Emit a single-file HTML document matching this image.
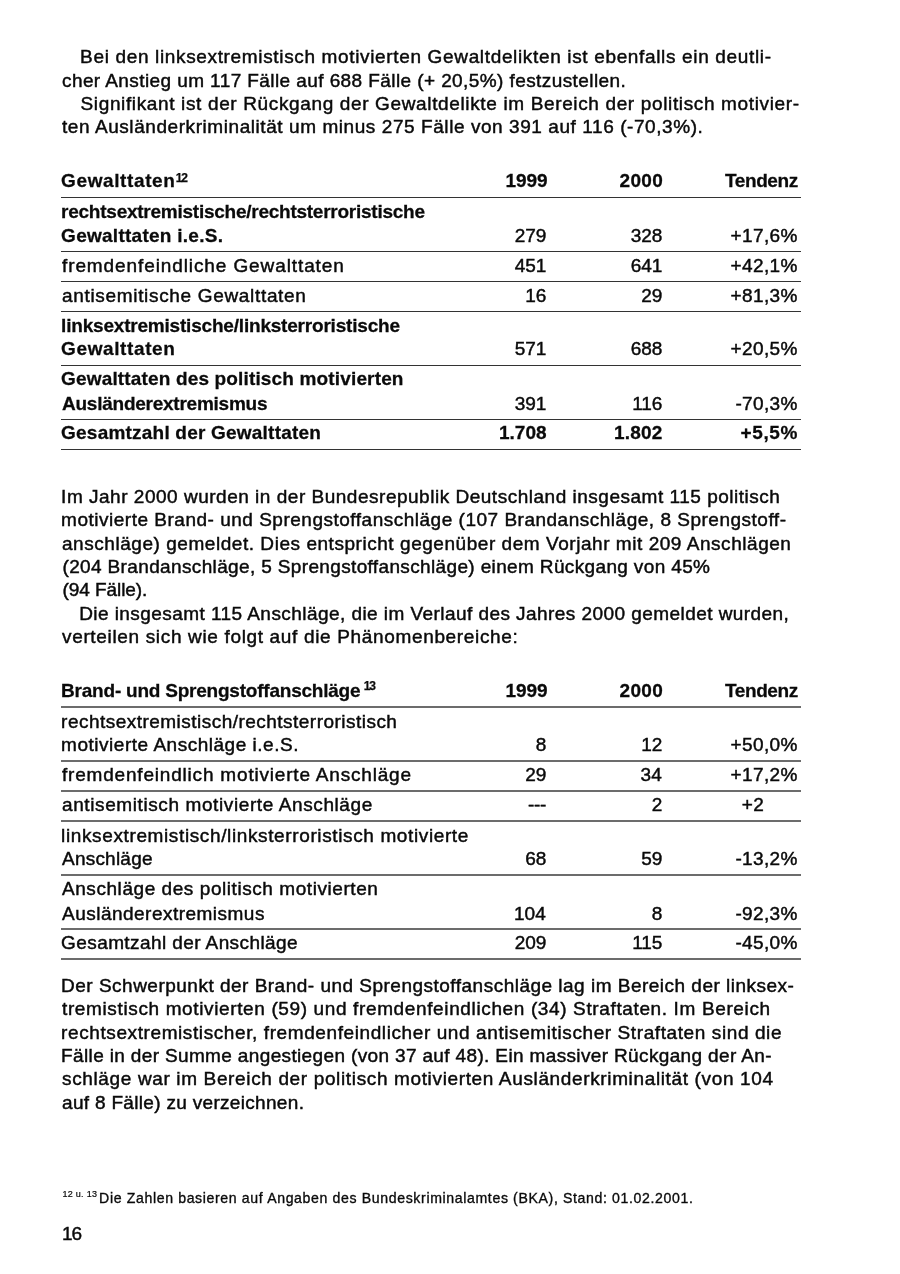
<!DOCTYPE html>
<html lang="de"><head><meta charset="utf-8"><title>Seite 16</title>
<style>
html,body{margin:0;padding:0;background:#fff}
body{width:900px;height:1274px;position:relative;overflow:hidden;font-family:'Liberation Sans', sans-serif;color:#0a0a0a}
.t{position:absolute;white-space:pre;font-size:19.0px;line-height:19.0px;font-kerning:normal}
.r{font-weight:400;-webkit-text-stroke-width:0.024em}
.b{font-weight:700;-webkit-text-stroke-width:0.014em}
.b.s{-webkit-text-stroke-width:0.25px}
p,div{margin:0;padding:0}
.h{position:absolute;left:61px;width:740px;height:1px;display:block}
.h1{background:#333}
.h2{background:#6c6c6c;height:2px}
#pg{position:absolute;left:0;top:0;width:900px;height:1274px;will-change:transform;background:#fff}
</style></head><body><div id="pg">
<p class="para">
<span class="t r" style="left:80.10px;top:47.42px;letter-spacing:0.653px">Bei den linksextremistisch motivierten Gewaltdelikten ist ebenfalls ein deutli-</span>
<span class="t r" style="left:62.00px;top:70.92px;letter-spacing:0.413px">cher Anstieg um 117 Fälle auf 688 Fälle (+ 20,5%) festzustellen.</span>
<span class="t r" style="left:80.50px;top:94.17px;letter-spacing:0.639px">Signifikant ist der Rückgang der Gewaltdelikte im Bereich der politisch motivier-</span>
<span class="t r" style="left:62.00px;top:117.42px;letter-spacing:0.568px">ten Ausländerkriminalität um minus 275 Fälle von 391 auf 116 (-70,3%).</span>
</p>
<div class="tbl">
<span class="t b" style="left:61.10px;top:171.17px;letter-spacing:0.610px">Gewalttaten</span>
<span class="t b s" style="left:175.67px;top:172.04px;letter-spacing:-1.029px;font-size:12.0px;line-height:12.0px">12</span>
<span class="t b" style="left:505.50px;top:171.17px;letter-spacing:-0.060px">1999</span>
<span class="t b" style="left:619.50px;top:171.17px;letter-spacing:0.365px">2000</span>
<span class="t b" style="left:725.00px;top:171.17px;letter-spacing:-0.401px">Tendenz</span>
<span class="t b" style="left:61.10px;top:201.92px;letter-spacing:-0.249px">rechtsextremistische/rechtsterroristische</span>
<span class="t b" style="left:61.10px;top:225.67px;letter-spacing:0.267px">Gewalttaten i.e.S.</span>
<span class="t r" style="left:62.00px;top:255.67px;letter-spacing:0.899px">fremdenfeindliche Gewalttaten</span>
<span class="t r" style="left:62.00px;top:285.67px;letter-spacing:0.673px">antisemitische Gewalttaten</span>
<span class="t b" style="left:61.10px;top:315.67px;letter-spacing:-0.197px">linksextremistische/linksterroristische</span>
<span class="t b" style="left:61.10px;top:339.42px;letter-spacing:0.610px">Gewalttaten</span>
<span class="t b" style="left:61.10px;top:369.42px;letter-spacing:0.155px">Gewalttaten des politisch motivierten</span>
<span class="t b" style="left:62.00px;top:393.67px;letter-spacing:-0.245px">Ausländerextremismus</span>
<span class="t b" style="left:61.10px;top:423.17px;letter-spacing:0.213px">Gesamtzahl der Gewalttaten</span>
<span class="t r" style="left:514.72px;top:225.67px;letter-spacing:-0.001px">279</span>
<span class="t r" style="left:630.72px;top:225.67px;letter-spacing:-0.001px">328</span>
<span class="t r" style="left:730.59px;top:225.67px;letter-spacing:0.369px">+17,6%</span>
<span class="t r" style="left:514.72px;top:255.67px;letter-spacing:-0.001px">451</span>
<span class="t r" style="left:630.72px;top:255.67px;letter-spacing:-0.001px">641</span>
<span class="t r" style="left:730.59px;top:255.67px;letter-spacing:0.369px">+42,1%</span>
<span class="t r" style="left:525.29px;top:285.67px;letter-spacing:-0.001px">16</span>
<span class="t r" style="left:641.29px;top:285.67px;letter-spacing:-0.001px">29</span>
<span class="t r" style="left:730.59px;top:285.67px;letter-spacing:0.369px">+81,3%</span>
<span class="t r" style="left:514.72px;top:339.42px;letter-spacing:-0.001px">571</span>
<span class="t r" style="left:630.72px;top:339.42px;letter-spacing:-0.001px">688</span>
<span class="t r" style="left:730.59px;top:339.42px;letter-spacing:0.369px">+20,5%</span>
<span class="t r" style="left:514.72px;top:393.67px;letter-spacing:-0.001px">391</span>
<span class="t r" style="left:632.13px;top:393.67px;letter-spacing:-0.001px">116</span>
<span class="t r" style="left:735.38px;top:393.67px;letter-spacing:0.369px">-70,3%</span>
<span class="t b" style="left:499.10px;top:423.17px;letter-spacing:-0.043px">1.708</span>
<span class="t b" style="left:614.10px;top:423.17px;letter-spacing:0.195px">1.802</span>
<span class="t b" style="left:740.58px;top:423.17px;letter-spacing:0.611px">+5,5%</span>
<i class="h h1" style="top:197.00px"></i>
<i class="h h1" style="top:250.75px"></i>
<i class="h h1" style="top:281.25px"></i>
<i class="h h1" style="top:310.75px"></i>
<i class="h h1" style="top:365.00px"></i>
<i class="h h1" style="top:418.75px"></i>
<i class="h h1" style="top:448.75px"></i>
</div>
<p class="para">
<span class="t r" style="left:61.10px;top:486.92px;letter-spacing:0.513px">Im Jahr 2000 wurden in der Bundesrepublik Deutschland insgesamt 115 politisch</span>
<span class="t r" style="left:61.10px;top:510.17px;letter-spacing:0.507px">motivierte Brand- und Sprengstoffanschläge (107 Brandanschläge, 8 Sprengstoff-</span>
<span class="t r" style="left:62.00px;top:533.67px;letter-spacing:0.544px">anschläge) gemeldet. Dies entspricht gegenüber dem Vorjahr mit 209 Anschlägen</span>
<span class="t r" style="left:62.50px;top:557.17px;letter-spacing:0.357px">(204 Brandanschläge, 5 Sprengstoffanschläge) einem Rückgang von 45%</span>
<span class="t r" style="left:62.50px;top:580.42px;letter-spacing:-0.068px">(94 Fälle).</span>
<span class="t r" style="left:79.15px;top:603.92px;letter-spacing:0.441px">Die insgesamt 115 Anschläge, die im Verlauf des Jahres 2000 gemeldet wurden,</span>
<span class="t r" style="left:62.00px;top:627.42px;letter-spacing:0.659px">verteilen sich wie folgt auf die Phänomenbereiche:</span>
</p>
<div class="tbl">
<span class="t b" style="left:61.10px;top:681.17px;letter-spacing:-0.222px">Brand- und Sprengstoffanschläge</span>
<span class="t b s" style="left:363.67px;top:679.94px;letter-spacing:-1.029px;font-size:12.0px;line-height:12.0px">13</span>
<span class="t b" style="left:505.50px;top:681.17px;letter-spacing:-0.060px">1999</span>
<span class="t b" style="left:619.50px;top:681.17px;letter-spacing:0.365px">2000</span>
<span class="t b" style="left:725.00px;top:681.17px;letter-spacing:-0.401px">Tendenz</span>
<span class="t r" style="left:61.10px;top:711.67px;letter-spacing:0.475px">rechtsextremistisch/rechtsterroristisch</span>
<span class="t r" style="left:61.10px;top:735.42px;letter-spacing:0.518px">motivierte Anschläge i.e.S.</span>
<span class="t r" style="left:62.00px;top:765.42px;letter-spacing:0.805px">fremdenfeindlich motivierte Anschläge</span>
<span class="t r" style="left:62.00px;top:795.42px;letter-spacing:0.602px">antisemitisch motivierte Anschläge</span>
<span class="t r" style="left:61.10px;top:825.67px;letter-spacing:0.623px">linksextremistisch/linksterroristisch motivierte</span>
<span class="t r" style="left:62.00px;top:849.42px;letter-spacing:0.221px">Anschläge</span>
<span class="t r" style="left:62.00px;top:879.42px;letter-spacing:0.561px">Anschläge des politisch motivierten</span>
<span class="t r" style="left:62.00px;top:903.67px;letter-spacing:0.483px">Ausländerextremismus</span>
<span class="t r" style="left:61.10px;top:933.17px;letter-spacing:0.408px">Gesamtzahl der Anschläge</span>
<span class="t r" style="left:535.85px;top:735.42px;letter-spacing:-0.001px">8</span>
<span class="t r" style="left:641.29px;top:735.42px;letter-spacing:-0.001px">12</span>
<span class="t r" style="left:730.59px;top:735.42px;letter-spacing:0.369px">+50,0%</span>
<span class="t r" style="left:525.29px;top:765.42px;letter-spacing:-0.001px">29</span>
<span class="t r" style="left:640.61px;top:765.42px;letter-spacing:-0.001px">34</span>
<span class="t r" style="left:730.59px;top:765.42px;letter-spacing:0.369px">+17,2%</span>
<span class="t r" style="left:525.29px;top:849.42px;letter-spacing:-0.001px">68</span>
<span class="t r" style="left:641.29px;top:849.42px;letter-spacing:-0.001px">59</span>
<span class="t r" style="left:735.38px;top:849.42px;letter-spacing:0.369px">-13,2%</span>
<span class="t r" style="left:514.05px;top:903.67px;letter-spacing:-0.001px">104</span>
<span class="t r" style="left:651.85px;top:903.67px;letter-spacing:-0.001px">8</span>
<span class="t r" style="left:735.38px;top:903.67px;letter-spacing:0.369px">-92,3%</span>
<span class="t r" style="left:514.72px;top:933.17px;letter-spacing:-0.001px">209</span>
<span class="t r" style="left:632.13px;top:933.17px;letter-spacing:-0.001px">115</span>
<span class="t r" style="left:735.38px;top:933.17px;letter-spacing:0.369px">-45,0%</span>
<span class="t r" style="left:528.00px;top:795.42px;letter-spacing:-0.367px">---</span>
<span class="t r" style="left:651.85px;top:795.42px;letter-spacing:-0.001px">2</span>
<span class="t r" style="left:741.75px;top:795.42px;letter-spacing:0.428px">+2</span>
<i class="h h2" style="top:706px"></i>
<i class="h h2" style="top:760px"></i>
<i class="h h2" style="top:790px"></i>
<i class="h h2" style="top:820px"></i>
<i class="h h2" style="top:874px"></i>
<i class="h h2" style="top:928px"></i>
<i class="h h2" style="top:958px"></i>
</div>
<p class="para">
<span class="t r" style="left:61.10px;top:975.67px;letter-spacing:0.490px">Der Schwerpunkt der Brand- und Sprengstoffanschläge lag im Bereich der linksex-</span>
<span class="t r" style="left:62.00px;top:999.17px;letter-spacing:0.630px">tremistisch motivierten (59) und fremdenfeindlichen (34) Straftaten. Im Bereich</span>
<span class="t r" style="left:61.10px;top:1022.67px;letter-spacing:0.596px">rechtsextremistischer, fremdenfeindlicher und antisemitischer Straftaten sind die</span>
<span class="t r" style="left:61.10px;top:1045.92px;letter-spacing:0.356px">Fälle in der Summe angestiegen (von 37 auf 48). Ein massiver Rückgang der An-</span>
<span class="t r" style="left:62.00px;top:1069.42px;letter-spacing:0.640px">schläge war im Bereich der politisch motivierten Ausländerkriminalität (von 104</span>
<span class="t r" style="left:62.00px;top:1092.92px;letter-spacing:0.315px">auf 8 Fälle) zu verzeichnen.</span>
</p>
<div class="footnote">
<span class="t r s" style="left:62.50px;top:1189.63px;letter-spacing:0.271px;font-size:9.0px;line-height:9.0px">12 u. 13</span>
<span class="t r" style="left:99.10px;top:1191.06px;letter-spacing:0.636px;font-size:14.1px;line-height:14.1px">Die Zahlen basieren auf Angaben des Bundeskriminalamtes (BKA), Stand: 01.02.2001.</span>
</div>
<div class="pageno">
<span class="t r" style="left:62.10px;top:1223.92px;letter-spacing:-1.241px">16</span>
</div>
</div></body></html>
